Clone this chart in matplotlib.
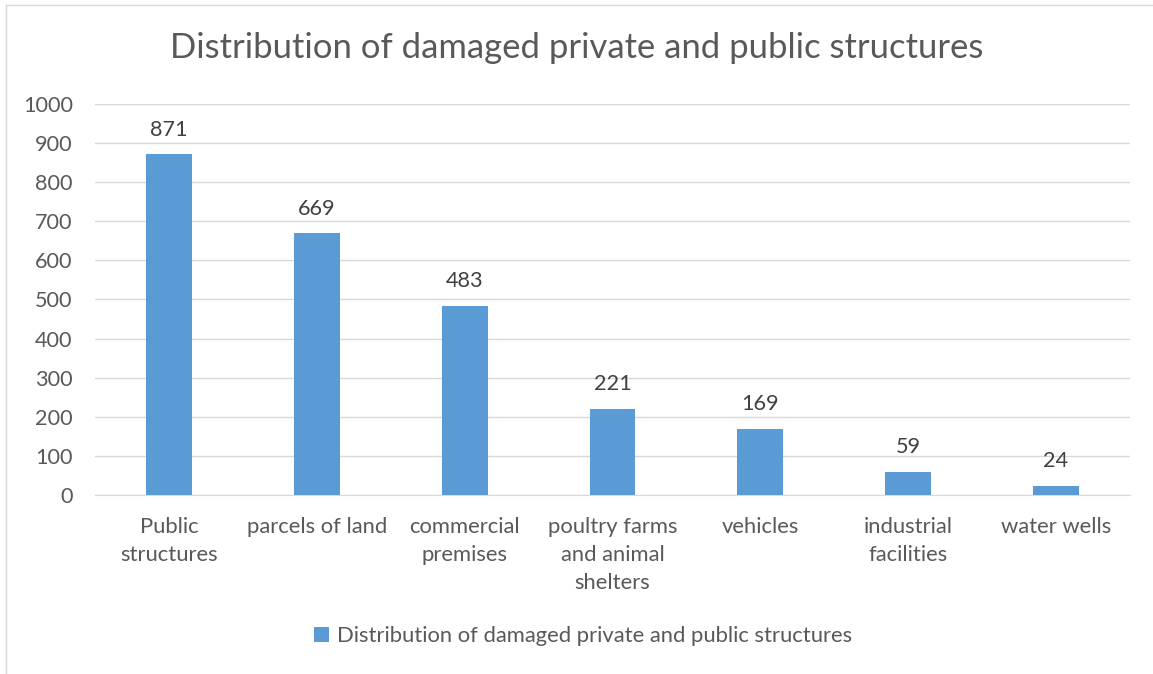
import matplotlib.pyplot as plt
from matplotlib.lines import Line2D

# data
categories = ['Public\nstructures', 'parcels of land', 'commercial\npremises',
              'poultry farms\nand animal\nshelters', 'vehicles', 'industrial\nfacilities',
              'water wells']
values = [871, 669, 483, 221, 169, 59, 24]
series_name = 'Distribution of damaged private and public structures'

plt.rcParams['font.family'] = ['Lato', 'DejaVu Sans']
text_color = '#595959'
bar_color = '#5b9bd5'
grid_color = '#d9d9d9'

fig = plt.figure(figsize=(11.53, 6.74), dpi=100)
ax = fig.add_axes([0.0824, 0.2656, 0.8976, 0.5801])

x = list(range(len(categories)))
bars = ax.bar(x, values, width=0.31, color=bar_color, label=series_name, zorder=3)

for xi, v in zip(x, values):
    ax.text(xi, v + 38, str(v), ha='center', va='bottom', fontsize=15.6, color='#404040')

ax.set_xlim(-0.5, len(categories) - 0.5)
ax.set_ylim(0, 1000)
ax.set_yticks(range(0, 1001, 100))
ax.set_xticks(x)
ax.set_xticklabels(categories, fontsize=15.8, color=text_color, linespacing=1.5)
ax.tick_params(axis='y', labelsize=15.6, labelcolor=text_color, length=0, pad=16)
ax.tick_params(axis='x', length=0, pad=16)
ax.yaxis.grid(True, color=grid_color, linewidth=1, zorder=0)
for side in ['top', 'right', 'left']:
    ax.spines[side].set_visible(False)
ax.spines['bottom'].set_color(grid_color)

fig.suptitle(series_name, fontsize=24.9, color=text_color, y=0.929, va='center')

fig.legend(handles=[bars], loc='center', bbox_to_anchor=(0.506, 0.056), frameon=False,
           fontsize=15.8, labelcolor=text_color, handlelength=0.65, handleheight=0.65,
           handletextpad=0.4)

# thin chart-area border on the left and top
fig.add_artist(Line2D([0.005, 0.005], [0.0, 0.992], color=grid_color, lw=1, transform=fig.transFigure))
fig.add_artist(Line2D([0.005, 1.0], [0.992, 0.992], color=grid_color, lw=1, transform=fig.transFigure))

fig.savefig('out.png', dpi=100)
